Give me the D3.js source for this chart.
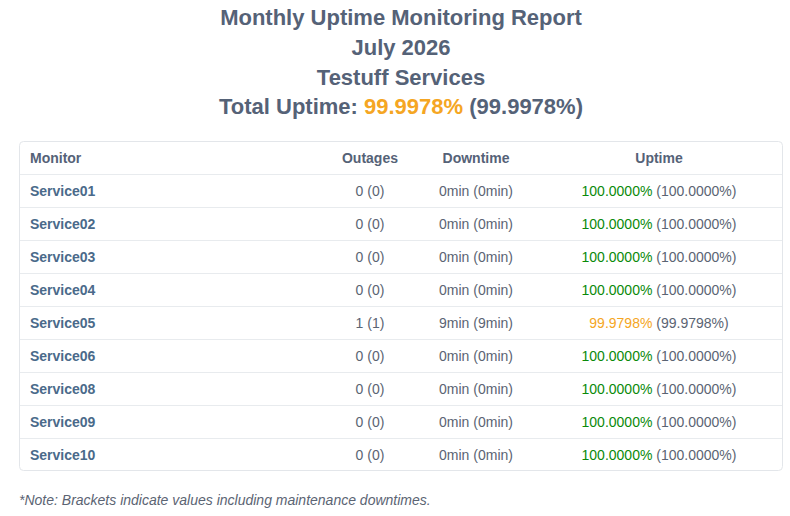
<!DOCTYPE html>
<html>
<head>
<meta charset="utf-8">
<script src="https://cdn.jsdelivr.net/npm/d3@7"></script>
<style>
  body { margin: 0; background: #fff; font-family: "Liberation Sans", Arial, sans-serif; }
  .title { font-size: 22px; font-weight: bold; fill: #556277; }
  .head { font-size: 14px; font-weight: bold; fill: #556277; }
  .name { font-size: 14px; font-weight: bold; fill: #4a6a8a; }
  .cell { font-size: 14px; fill: #5b6473; }
  .note { font-size: 14px; font-style: italic; fill: #5b6473; }
</style>
</head>
<body>
<div id="chart"></div>
<script>
const titleLines = ["Monthly Uptime Monitoring Report", "July 2026", "Testuff Services"];
const totalUptime = "99.9978%";
const totalUptimeMaint = "99.9978%";

const columns = ["Monitor", "Outages", "Downtime", "Uptime"];
const monitors = ["Service01", "Service02", "Service03", "Service04", "Service05", "Service06", "Service08", "Service09", "Service10"];
const outages = [0, 0, 0, 0, 1, 0, 0, 0, 0];
const outagesMaint = [0, 0, 0, 0, 1, 0, 0, 0, 0];
const downtimeMin = [0, 0, 0, 0, 9, 0, 0, 0, 0];
const downtimeMaintMin = [0, 0, 0, 0, 9, 0, 0, 0, 0];
const uptime = [100, 100, 100, 100, 99.9798, 100, 100, 100, 100];
const uptimeMaint = [100, 100, 100, 100, 99.9798, 100, 100, 100, 100];
const note = "*Note: Brackets indicate values including maintenance downtimes.";

const width = 790, height = 516;
const green = "#0a8a0a", orange = "#f5a623";

const svg = d3.select("#chart").append("svg")
  .attr("width", width).attr("height", height);

// title
const title = svg.append("g");
titleLines.forEach((t, i) => {
  title.append("text").attr("class", "title")
    .attr("x", 401).attr("y", 24.5 + i * 30)
    .attr("text-anchor", "middle").text(t);
});
const tot = title.append("text").attr("class", "title")
  .attr("x", 401).attr("y", 114).attr("text-anchor", "middle");
tot.append("tspan").text("Total Uptime: ");
tot.append("tspan").attr("fill", orange).text(totalUptime);
tot.append("tspan").text(" (" + totalUptimeMaint + ")");

// table layout
const tLeft = 19, tRight = 783, tTop = 141, headH = 33;
const rows = d3.scaleBand()
  .domain(d3.range(monitors.length))
  .range([tTop + headH, tTop + headH + monitors.length * 33]);

const col = d3.scaleOrdinal()
  .domain(columns)
  .range([30, 370, 476, 659]);

const table = svg.append("g");
table.append("rect")
  .attr("x", tLeft + 0.5).attr("y", tTop + 0.5)
  .attr("width", tRight - tLeft - 1).attr("height", rows.range()[1] - tTop - 1)
  .attr("rx", 4)
  .attr("fill", "#fff").attr("stroke", "#e3e6ea");

// header
columns.forEach((c, i) => {
  table.append("text").attr("class", "head")
    .attr("x", col(c)).attr("y", tTop + headH / 2 + 1)
    .attr("dy", "0.35em")
    .attr("text-anchor", i === 0 ? "start" : "middle")
    .text(c);
});

// row separators
table.selectAll("line.sep")
  .data(rows.domain())
  .join("line")
  .attr("class", "sep")
  .attr("x1", tLeft + 1).attr("x2", tRight - 1)
  .attr("y1", d => rows(d) + 0.5).attr("y2", d => rows(d) + 0.5)
  .attr("stroke", "#e8ebee");

const fmt = d3.format(".4f");
const row = table.selectAll("g.row")
  .data(rows.domain())
  .join("g")
  .attr("class", "row")
  .attr("transform", d => `translate(0,${rows(d) + rows.bandwidth() / 2 + 1})`);

row.append("text").attr("class", "name")
  .attr("x", col("Monitor")).attr("dy", "0.35em")
  .text(d => monitors[d]);

row.append("text").attr("class", "cell")
  .attr("x", col("Outages")).attr("dy", "0.35em").attr("text-anchor", "middle")
  .text(d => `${outages[d]} (${outagesMaint[d]})`);

row.append("text").attr("class", "cell")
  .attr("x", col("Downtime")).attr("dy", "0.35em").attr("text-anchor", "middle")
  .text(d => `${downtimeMin[d]}min (${downtimeMaintMin[d]}min)`);

const up = row.append("text").attr("class", "cell")
  .attr("x", col("Uptime")).attr("dy", "0.35em").attr("text-anchor", "middle");
up.append("tspan")
  .attr("fill", d => uptime[d] >= 100 ? green : orange)
  .text(d => fmt(uptime[d]) + "%");
up.append("tspan")
  .text(d => ` (${fmt(uptimeMaint[d])}%)`);

// note
svg.append("text").attr("class", "note")
  .attr("x", 19).attr("y", 505)
  .text(note);
</script>
</body>
</html>
